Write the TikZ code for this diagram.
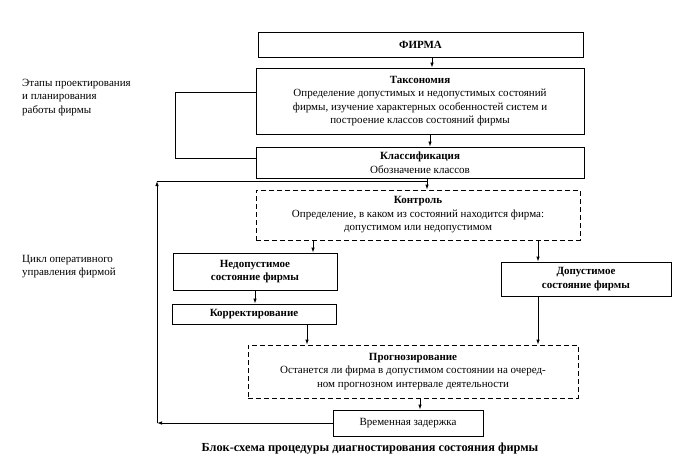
\documentclass[tikz,border=0pt]{standalone}
\usepackage{fontspec}
\setmainfont{Liberation Serif}
\usetikzlibrary{arrows.meta}
\tikzset{
  box/.style={draw, line width=0.85pt, rectangle, align=center, inner sep=1pt, font=\fontsize{11}{13.5}\selectfont},
  dbox/.style={box, dash pattern=on 5pt off 3pt},
  ln/.style={line width=0.85pt},
  arr/.style={ln, -{Latex[length=5pt,width=3.5pt]}},
  lbl/.style={anchor=north west, align=left, inner sep=0pt, font=\fontsize{11}{13.5}\selectfont},
}
\begin{document}
\begin{tikzpicture}[x=1pt,y=-1pt]
\useasboundingbox (0,0) rectangle (688,468);
\node[box, minimum width=325pt, minimum height=25pt] (firma) at (420.5,44.5) {\textbf{ФИРМА}};
\node[box, minimum width=328pt, minimum height=66pt] (tax) at (420,101)
  {\textbf{Таксономия}\\Определение допустимых и недопустимых состояний\\фирмы, изучение характерных особенностей систем и\\построение классов состояний фирмы};
\node[box, minimum width=328pt, minimum height=31pt] (klass) at (420,162.5)
  {\textbf{Классификация}\\Обозначение классов};
\node[dbox, minimum width=324pt, minimum height=50pt] (kontrol) at (418,215)
  {\textbf{Контроль}\\Определение, в каком из состояний находится фирма:\\допустимом или недопустимом};
\node[box, minimum width=164pt, minimum height=37pt] (nedop) at (255,271.5)
  {\textbf{Недопустимое}\\\textbf{состояние фирмы}};
\node[box, minimum width=164pt, minimum height=20pt] (korr) at (254,314)
  {\textbf{Корректирование}};
\node[box, minimum width=170pt, minimum height=34pt] (dop) at (586,279)
  {\textbf{Допустимое}\\\textbf{состояние фирмы}};
\node[dbox, minimum width=330pt, minimum height=53pt] (prog) at (413,371.5)
  {\textbf{Прогнозирование}\\Останется ли фирма в допустимом состоянии на очеред-\\ном прогнозном интервале деятельности};
\node[box, minimum width=150pt, minimum height=26pt] (vz) at (408,423)
  {Временная задержка};
\node[lbl] (lab1) at (22,79) {Этапы проектирования\\и планирования\\работы фирмы};
\node[lbl] (lab2) at (22,255) {Цикл оперативного\\управления фирмой};
\node[inner sep=0pt, font=\fontsize{12.3}{14}\selectfont\bfseries] (cap) at (370,449)
  {Блок-схема процедуры диагностирования состояния фирмы};
% connectors
\draw[arr] (firma.south -| 432,0) -- (tax.north -| 432,0);
\draw[arr] (tax.south -| 430,0) -- (klass.north -| 430,0);
\coordinate (b1) at (175,92);
\coordinate (b2) at (175,158);
\draw[ln] (tax.west |- b1) -- (b1) -- (b2) -- (klass.west |- b2);
\draw[arr] (klass.south -| 427,0) -- (kontrol.north -| 427,0);
\coordinate (f1) at (157,423);
\coordinate (f2) at (157,181);
\coordinate (j) at (427,181);
\draw[arr] (vz.west) -- (f1);
\draw[arr] (f1) -- (f2);
\draw[ln] (f2) -- (j);
\draw[arr] (kontrol.south -| 313,0) -- (nedop.north -| 313,0);
\draw[arr] (kontrol.south -| 538,0) -- (dop.north -| 538,0);
\draw[arr] (nedop.south -| 255,0) -- (korr.north -| 255,0);
\draw[arr] (korr.south -| 307,0) -- (prog.north -| 307,0);
\draw[arr] (dop.south -| 538,0) -- (prog.north -| 538,0);
\draw[arr] (prog.south -| 420,0) -- (vz.north -| 420,0);
\end{tikzpicture}
\end{document}
